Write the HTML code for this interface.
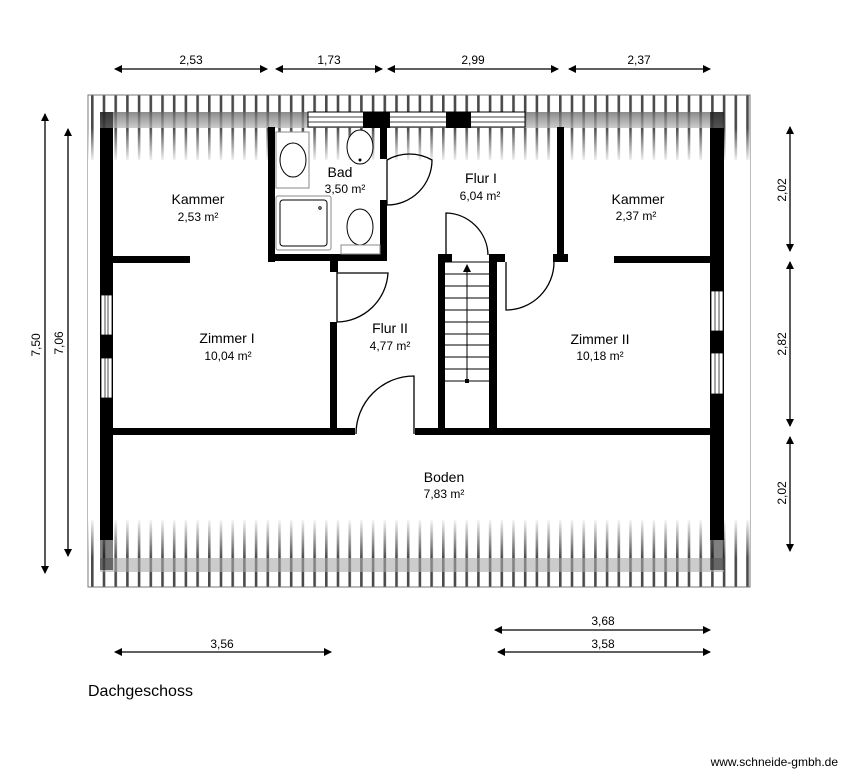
<!DOCTYPE html>
<html><head><meta charset="utf-8"><style>
html,body{margin:0;padding:0;background:#fff;}
svg{display:block;font-family:"Liberation Sans",sans-serif;}
</style></head><body>
<svg width="849" height="776" viewBox="0 0 849 776" xmlns="http://www.w3.org/2000/svg">
<defs>
<pattern id="st" x="91" y="0" width="11.7" height="10" patternUnits="userSpaceOnUse">
<rect x="0" y="0" width="2.6" height="10" fill="#4a4a4a"/>
</pattern>
<linearGradient id="fadeT" x1="0" y1="0" x2="0" y2="1">
<stop offset="0" stop-color="#fff" stop-opacity="0"/><stop offset="1" stop-color="#fff" stop-opacity="1"/>
</linearGradient>
<linearGradient id="fadeB" x1="0" y1="0" x2="0" y2="1">
<stop offset="0" stop-color="#fff" stop-opacity="1"/><stop offset="1" stop-color="#fff" stop-opacity="0"/>
</linearGradient>
<linearGradient id="bandT" x1="0" y1="0" x2="0" y2="1">
<stop offset="0" stop-color="#666"/><stop offset="1" stop-color="#bbb"/>
</linearGradient>
<marker id="ar" markerWidth="8" markerHeight="8" refX="7" refY="4" orient="auto-start-reverse" markerUnits="userSpaceOnUse">
<path d="M0,0 L8,4 L0,8 z" fill="#000"/>
</marker>
</defs>

<rect x="88" y="95" width="662" height="492" fill="url(#st)"/>
<rect x="88" y="95" width="662" height="492" fill="none" stroke="#777" stroke-width="1"/>
<rect x="100" y="112" width="624" height="16" fill="url(#bandT)" opacity="0.75"/>
<rect x="100" y="558" width="624" height="14" fill="#aaa" opacity="0.6"/>
<rect x="88" y="160" width="662" height="360" fill="#fff"/>
<rect x="88" y="128" width="662" height="35" fill="url(#fadeT)"/>
<rect x="88" y="518" width="662" height="40" fill="url(#fadeB)"/>

<rect x="100" y="128" width="13" height="412" fill="#000"/>
<rect x="710" y="128" width="14" height="412" fill="#000"/>
<rect x="100" y="112" width="13" height="40" fill="#000" opacity="0.6"/>
<rect x="710" y="112" width="14" height="40" fill="#000" opacity="0.6"/>
<rect x="100" y="530" width="13" height="40" fill="#000" opacity="0.5"/>
<rect x="710" y="530" width="14" height="40" fill="#000" opacity="0.5"/>
<g fill="#fff" stroke="#000" stroke-width="0.8">
<rect x="101" y="295" width="11" height="40"/><rect x="101" y="358" width="11" height="40"/>
<rect x="711" y="291" width="12" height="40"/><rect x="711" y="353" width="12" height="41"/>
</g>
<g stroke="#000" stroke-width="0.7">
<line x1="105" y1="295" x2="105" y2="335"/><line x1="108" y1="295" x2="108" y2="335"/>
<line x1="105" y1="358" x2="105" y2="398"/><line x1="108" y1="358" x2="108" y2="398"/>
<line x1="715" y1="291" x2="715" y2="331"/><line x1="719" y1="291" x2="719" y2="331"/>
<line x1="715" y1="353" x2="715" y2="394"/><line x1="719" y1="353" x2="719" y2="394"/>
</g>

<rect x="308" y="112" width="217" height="15" fill="#fff" stroke="#000" stroke-width="1"/>
<g stroke="#000" stroke-width="0.7">
<line x1="308" y1="117" x2="525" y2="117"/><line x1="308" y1="122" x2="525" y2="122"/>
</g>
<rect x="363" y="112" width="27" height="16" fill="#000"/>
<rect x="446" y="112" width="25" height="16" fill="#000"/>

<g fill="#000">
<rect x="268" y="127" width="7" height="135"/>
<rect x="268" y="254" width="119" height="7"/>
<rect x="380" y="127" width="7" height="32"/>
<rect x="380" y="200" width="7" height="60"/>
<rect x="113" y="256" width="77" height="7"/>
<rect x="557" y="127" width="7" height="131"/>
<rect x="553" y="254" width="15" height="8"/>
<rect x="614" y="256" width="96" height="7"/>
<rect x="330" y="256" width="8" height="16"/>
<rect x="330" y="322" width="7" height="112"/>
<rect x="438" y="255" width="7" height="177"/>
<rect x="489" y="255" width="8" height="177"/>
<rect x="489" y="254" width="16" height="8"/>
<rect x="438" y="254" width="14" height="8"/>
<rect x="113" y="428" width="242" height="7"/>
<rect x="415" y="428" width="295" height="7"/>
</g>

<g fill="none" stroke="#000" stroke-width="1.3">
<path d="M387,205 L387,160 A45,45 0 0 1 432,160 A45,45 0 0 1 387,205"/>
<path d="M337,322 L337,272 M337,322 A52,52 0 0 0 388,273 L337,273"/>
<path d="M446,255 L446,213 A43,43 0 0 1 488,255"/>
<path d="M506,262 L506,310 A48,48 0 0 0 554,262"/>
<path d="M356,434 A58,58 0 0 1 414,376 L414,434"/>
</g>

<g stroke="#000" stroke-width="1">
<line x1="445" y1="262" x2="489" y2="262"/>
<line x1="445" y1="274" x2="489" y2="274"/>
<line x1="445" y1="286" x2="489" y2="286"/>
<line x1="445" y1="298" x2="489" y2="298"/>
<line x1="445" y1="310" x2="489" y2="310"/>
<line x1="445" y1="322" x2="489" y2="322"/>
<line x1="445" y1="334" x2="489" y2="334"/>
<line x1="445" y1="345" x2="489" y2="345"/>
<line x1="445" y1="357" x2="489" y2="357"/>
<line x1="445" y1="369" x2="489" y2="369"/>
<line x1="445" y1="381" x2="489" y2="381"/>
<line x1="467" y1="381" x2="467" y2="270"/>
</g>
<path d="M467,264 L463,272 L471,272 z" fill="#000"/>
<rect x="465" y="379" width="4" height="4" fill="#000"/>

<g fill="#fff" stroke="#000" stroke-width="1">
<rect x="276" y="132" width="33" height="56" stroke="#888"/>
<ellipse cx="293" cy="160" rx="13" ry="17"/>
<rect x="276" y="196" width="55" height="54" rx="2" stroke="#888"/>
<rect x="280" y="200" width="47" height="46" rx="3"/>
<ellipse cx="360" cy="147" rx="13" ry="17"/>
<ellipse cx="360" cy="227" rx="13" ry="18"/>
<rect x="341" y="245" width="39" height="9" stroke="#888"/>
</g>
<circle cx="360" cy="160" r="1.5" fill="#000"/>
<circle cx="320" cy="208" r="1.2" fill="none" stroke="#000"/>

<g font-size="14" text-anchor="middle" fill="#000">
<text x="198" y="204">Kammer</text>
<text x="340" y="177">Bad</text>
<text x="481" y="183">Flur I</text>
<text x="638" y="204">Kammer</text>
<text x="227" y="343">Zimmer I</text>
<text x="390" y="333">Flur II</text>
<text x="600" y="344">Zimmer II</text>
<text x="444" y="482">Boden</text>
</g>
<g font-size="12" text-anchor="middle" fill="#000">
<text x="198" y="221">2,53 m²</text>
<text x="345" y="193">3,50 m²</text>
<text x="480" y="200">6,04 m²</text>
<text x="636" y="220">2,37 m²</text>
<text x="228" y="360">10,04 m²</text>
<text x="390" y="350">4,77 m²</text>
<text x="600" y="360">10,18 m²</text>
<text x="444" y="498">7,83 m²</text>
</g>

<g stroke="#000" stroke-width="1.3" marker-start="url(#ar)" marker-end="url(#ar)">
<line x1="115" y1="69" x2="267" y2="69"/>
<line x1="276" y1="69" x2="382" y2="69"/>
<line x1="388" y1="69" x2="558" y2="69"/>
<line x1="569" y1="69" x2="710" y2="69"/>
<line x1="45" y1="114" x2="45" y2="573"/>
<line x1="68" y1="129" x2="68" y2="556"/>
<line x1="790" y1="127" x2="790" y2="251"/>
<line x1="790" y1="262" x2="790" y2="426"/>
<line x1="790" y1="437" x2="790" y2="551"/>
<line x1="115" y1="652" x2="331" y2="652"/>
<line x1="495" y1="630" x2="710" y2="630"/>
<line x1="498" y1="652" x2="710" y2="652"/>
</g>
<g font-size="12" text-anchor="middle" fill="#000">
<text x="191" y="64">2,53</text>
<text x="329" y="64">1,73</text>
<text x="473" y="64">2,99</text>
<text x="639" y="64">2,37</text>
<text x="222" y="648">3,56</text>
<text x="603" y="625">3,68</text>
<text x="603" y="648">3,58</text>
<text transform="translate(40,345) rotate(-90)">7,50</text>
<text transform="translate(63,343) rotate(-90)">7,06</text>
<text transform="translate(786,190) rotate(-90)">2,02</text>
<text transform="translate(786,344) rotate(-90)">2,82</text>
<text transform="translate(786,493) rotate(-90)">2,02</text>
</g>
<text x="88" y="696" font-size="16" fill="#000">Dachgeschoss</text>
<text x="838" y="766" font-size="12" text-anchor="end" fill="#000">www.schneide-gmbh.de</text>
</svg>
</body></html>
